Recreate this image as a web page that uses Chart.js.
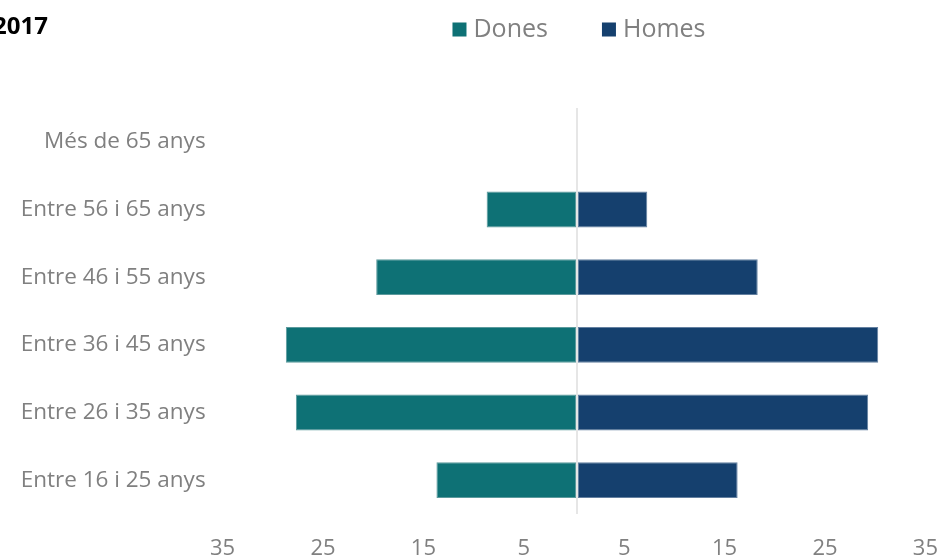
<!DOCTYPE html>
<html>
<head>
<meta charset="utf-8">
<script src="https://cdn.jsdelivr.net/npm/chart.js@4"></script>
<style>
  html, body { margin: 0; padding: 0; background: #fff; }
  #wrap { width: 941px; height: 558px; }
</style>
</head>
<body>
<div id="wrap"><canvas id="pyramid" width="941" height="558"></canvas></div>
<script>
// Age groups, top to bottom
const categories = ['Més de 65 anys', 'Entre 56 i 65 anys', 'Entre 46 i 55 anys', 'Entre 36 i 45 anys', 'Entre 26 i 35 anys', 'Entre 16 i 25 anys'];
const dones = [0, 9, 20, 29, 28, 14];
const homes = [0, 7, 18, 30, 29, 16];
const tickValues = [-35, -25, -15, -5, 0, 5, 15, 25, 35];
const titleText = '2017';

const FONT = '"Open Sans", "Noto Sans", sans-serif';
const GREY = '#808080';

// legend + title drawn on top
const headerPlugin = {
    id: 'header',
    afterDraw(chart) {
        const c = chart.ctx;
        const area = chart.chartArea;
        c.save();
        c.font = 'bold 24px ' + FONT;
        c.fillStyle = '#000';
        c.textBaseline = 'alphabetic';
        c.fillText(titleText, -7, 34);

        c.font = '25px ' + FONT;
        const box = 14, gap = 7, itemGap = 54;
        const items = chart.data.datasets.map(d => ({ label: d.label, color: d.backgroundColor, w: c.measureText(d.label).width }));
        let total = items.reduce((s, it) => s + box + gap + it.w, 0) + itemGap * (items.length - 1);
        let x = (area.left + area.right) / 2 - total / 2 + 2;
        items.forEach(it => {
            c.fillStyle = it.color;
            c.fillRect(x, 22.5, box, box);
            x += box + gap;
            c.fillStyle = GREY;
            c.fillText(it.label, x, 36.5);
            x += it.w + itemGap;
        });
        c.restore();
    }
};

const chart = new Chart(document.getElementById('pyramid'), {
    type: 'bar',
    data: {
        labels: categories,
        datasets: [
            {
                label: 'Dones',
                data: dones.map(v => -v),
                backgroundColor: '#0e7175',
                borderColor: '#5c9a9d',
                borderWidth: 1,
                borderSkipped: false
            },
            {
                label: 'Homes',
                data: homes,
                backgroundColor: '#15406e',
                borderColor: '#6480a0',
                borderWidth: 1,
                borderSkipped: false
            }
        ]
    },
    options: {
        indexAxis: 'y',
        responsive: false,
        animation: false,
        layout: { padding: { top: 108, right: 12.6, bottom: 0, left: 0 } },
        categoryPercentage: 0.53,
        barPercentage: 1,
        plugins: {
            legend: { display: false },
            tooltip: { enabled: false }
        },
        scales: {
            x: {
                stacked: true,
                min: -35,
                max: 35,
                afterBuildTicks: axis => { axis.ticks = tickValues.map(v => ({ value: v })); },
                afterFit: axis => {
                    axis.height = 44;
                    axis.paddingLeft = 0;
                    axis.paddingRight = 0;
                },
                border: { display: false },
                grid: {
                    drawTicks: false,
                    lineWidth: 2,
                    color: ctx => ctx.tick && ctx.tick.value === 0 ? '#e6e6e6' : 'rgba(0,0,0,0)'
                },
                ticks: {
                    padding: 22,
                    labelOffset: -3,
                    maxRotation: 0,
                    autoSkip: false,
                    color: GREY,
                    font: { family: FONT, size: 22 },
                    callback: v => v === 0 ? '' : Math.abs(v)
                }
            },
            y: {
                stacked: true,
                afterFit: axis => { axis.width = 225.6; },
                border: { display: false },
                grid: { display: false },
                ticks: {
                    padding: 12,
                    color: GREY,
                    font: { family: FONT, size: 22.5 }
                }
            }
        }
    },
    plugins: [headerPlugin]
});
</script>
</body>
</html>
